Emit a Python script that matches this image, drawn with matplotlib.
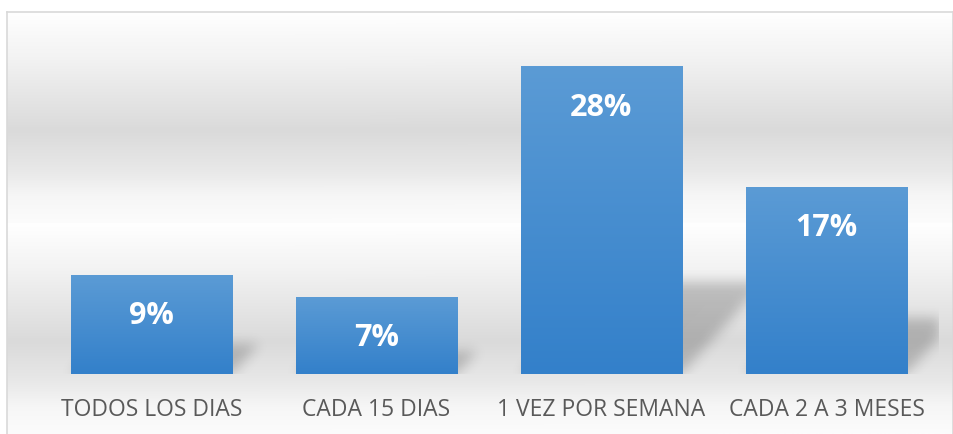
import numpy as np
import matplotlib
matplotlib.use("Agg")
import matplotlib.pyplot as plt
from matplotlib.colors import LinearSegmentedColormap

# Data
categories = ["TODOS LOS DIAS", "CADA 15 DIAS", "1 VEZ POR SEMANA", "CADA 2 A 3 MESES"]
values = [9, 7, 28, 17]
labels = ["9%", "7%", "28%", "17%"]

plt.rcParams['font.family'] = ['Open Sans', 'DejaVu Sans']

W, H = 954, 434
fig = plt.figure(figsize=(W / 100, H / 100), dpi=100)
fig.patch.set_facecolor("white")

# background frame with vertical grey gradient
bg = fig.add_axes([7 / W, 0, (953 - 7) / W, (H - 12) / H], zorder=0)
ys = np.array([0, 0.21, 0.56, 0.75, 0.87, 1.0])       # from top of frame
gs = np.array([255, 243, 218, 232, 246, 252]) / 255.0
yy = np.linspace(0, 1, 400)
col = np.interp(yy, ys, gs)
img = np.dstack([col, col, col])[:, None, :].repeat(2, axis=1)
bg.imshow(img.reshape(400, 2, 3), aspect="auto", extent=[0, 1, 0, 1], origin="upper")
bg.set_xlim(0, 1)
bg.set_ylim(0, 1)
bg.set_xticks([])
bg.set_yticks([])
for side in ["left", "top", "right"]:
    bg.spines[side].set_color("#d9d9d9")
    bg.spines[side].set_linewidth(1.2)
bg.spines["bottom"].set_visible(False)

# main plot area
ax = fig.add_axes([39 / W, 60 / H, 900 / W, 329 / H], zorder=1)
ax.set_facecolor("none")
ymax = 30
ax.set_xlim(-0.5, 3.5)
ax.set_ylim(0, ymax)
for s in ax.spines.values():
    s.set_visible(False)
ax.set_xticks([])
ax.set_yticks([])

bw = 0.716
px_x = 900 / 4.0      # px per category
px_y = 329 / ymax     # px per percent

# perspective shadows behind the bars
nx, ny = 900, 329
gx = np.linspace(-0.5, 3.5, nx)
gy = np.linspace(0, ymax, ny)
X, Y = np.meshgrid(gx, gy)
mask = np.zeros_like(X)
for i, v in enumerate(values):
    left, right = i - bw / 2, i + bw / 2
    sh = 0.3 * v
    dx = 0.9 * Y * px_y / px_x
    m = (Y <= sh) & (X >= left + dx) & (X <= right + dx)
    mask[m] = 1.0

sigma = 6.0
k = np.arange(-20, 21)
kern = np.exp(-k ** 2 / (2 * sigma ** 2))
kern /= kern.sum()
blur = np.apply_along_axis(lambda r: np.convolve(r, kern, mode="same"), 1, mask)
blur = np.apply_along_axis(lambda c: np.convolve(c, kern, mode="same"), 0, blur)
shadow = np.zeros((ny, nx, 4))
shadow[..., 3] = blur * 0.2
ax.imshow(shadow, extent=[-0.5, 3.5, 0, ymax], origin="lower", aspect="auto", zorder=1)

# bars with vertical gradient
bar_cmap = LinearSegmentedColormap.from_list("bar", ["#3380ca", "#5b9bd5"])
grad = np.linspace(0, 1, 256).reshape(-1, 1)
for i, v in enumerate(values):
    ax.imshow(grad, cmap=bar_cmap, extent=[i - bw / 2, i + bw / 2, 0, v],
              origin="lower", aspect="auto", zorder=2)
    ax.annotate(labels[i], xy=(i, v), xytext=(0, -35), textcoords="offset points",
                ha="center", va="baseline", color="white", fontsize=22,
                fontweight="bold", zorder=3)
    ax.annotate(categories[i], xy=(i, 0), xytext=(0, -30.2), textcoords="offset points",
                ha="center", va="baseline", color="#595959", fontsize=16.5,
                annotation_clip=False)

ax.set_xlim(-0.5, 3.5)
ax.set_ylim(0, ymax)

fig.savefig("out.png", dpi=100, facecolor="white")
